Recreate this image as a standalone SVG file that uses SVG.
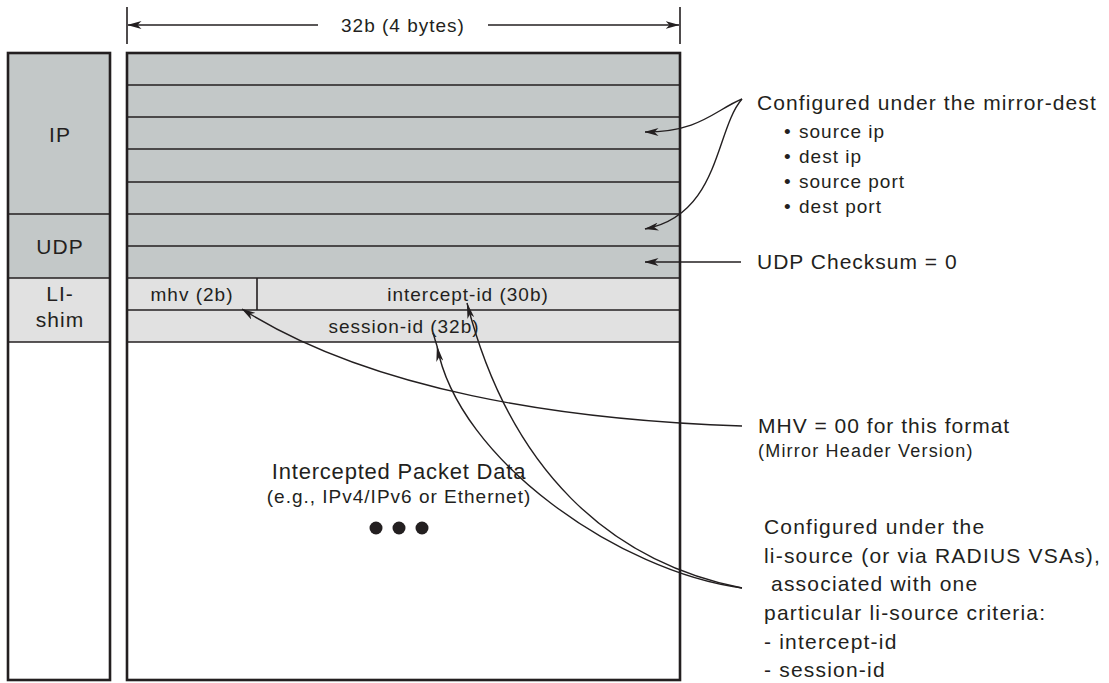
<svg xmlns="http://www.w3.org/2000/svg" width="1109" height="683" viewBox="0 0 1109 683">
<style>
.t{font-family:"Liberation Sans",Arial,Helvetica,sans-serif;fill:#231f20;letter-spacing:1px}
.box{stroke:#231f20;stroke-width:2.6}
.row{stroke:#231f20;stroke-width:1.6;fill:none}
.con{stroke:#231f20;stroke-width:1.4;fill:none}
.dark{fill:#c3c8c8}
.light{fill:#e1e1e1}
</style>
<defs>
<marker id="ah" markerUnits="userSpaceOnUse" viewBox="0 0 14 8" markerWidth="14" markerHeight="8" refX="13.5" refY="4" orient="auto">
<path d="M0,0 L14,4 L0,8 L4,4 z" fill="#231f20"/>
</marker>
<marker id="ahs" markerUnits="userSpaceOnUse" viewBox="0 0 16 7" markerWidth="16" markerHeight="7" refX="15.5" refY="3.5" orient="auto">
<path d="M0,0 L16,3.5 L0,7 L4,3.5 z" fill="#231f20"/>
</marker>
</defs>
<rect width="1109" height="683" fill="#ffffff"/>

<g id="width-indicator">
<line x1="127" y1="7" x2="127" y2="44" class="row"/>
<line x1="680" y1="7" x2="680" y2="44" class="row"/>
<text class="t" x="403" y="32" font-size="19" text-anchor="middle">32b (4 bytes)</text>
</g>

<g id="layer-column">
<rect x="8" y="53" width="102" height="161" class="dark"/>
<rect x="8" y="214" width="102" height="64" class="dark"/>
<rect x="8" y="278" width="102" height="64" class="light"/>
<rect x="8" y="342" width="102" height="338" fill="#ffffff"/>
<line x1="8" y1="214" x2="110" y2="214" class="row"/>
<line x1="8" y1="278" x2="110" y2="278" class="row"/>
<line x1="8" y1="342" x2="110" y2="342" class="row"/>
<rect x="8" y="53" width="102" height="627" fill="none" class="box"/>
<text class="t" x="60" y="142" font-size="21" text-anchor="middle">IP</text>
<text class="t" x="60" y="254" font-size="21" text-anchor="middle">UDP</text>
<text class="t" x="60" y="301" font-size="21" text-anchor="middle">LI-</text>
<text class="t" x="60" y="327" font-size="21" text-anchor="middle">shim</text>
</g>

<g id="packet">
<rect x="127" y="53" width="553" height="225" class="dark"/>
<rect x="127" y="278" width="553" height="64" class="light"/>
<rect x="127" y="342" width="553" height="338" fill="#ffffff"/>
<line x1="127" y1="85" x2="680" y2="85" class="row"/>
<line x1="127" y1="117" x2="680" y2="117" class="row"/>
<line x1="127" y1="149" x2="680" y2="149" class="row"/>
<line x1="127" y1="182" x2="680" y2="182" class="row"/>
<line x1="127" y1="214" x2="680" y2="214" class="row"/>
<line x1="127" y1="246" x2="680" y2="246" class="row"/>
<line x1="127" y1="278" x2="680" y2="278" class="row"/>
<line x1="127" y1="310" x2="680" y2="310" class="row"/>
<line x1="127" y1="342" x2="680" y2="342" class="row"/>
<line x1="257" y1="278" x2="257" y2="310" class="row"/>
<rect x="127" y="53" width="553" height="627" fill="none" class="box"/>
</g>

<g id="mhv-field"><text class="t" x="192" y="301" font-size="19" text-anchor="middle">mhv (2b)</text></g>
<g id="intercept-id-field"><text class="t" x="468" y="301" font-size="19" text-anchor="middle">intercept-id (30b)</text></g>
<g id="session-id-field"><text class="t" x="404" y="333" font-size="19" text-anchor="middle">session-id (32b)</text></g>

<g id="payload">
<text class="t" x="399" y="479" font-size="22" text-anchor="middle" style="letter-spacing:0.8px">Intercepted Packet Data</text>
<text class="t" x="399" y="503" font-size="19" text-anchor="middle">(e.g., IPv4/IPv6 or Ethernet)</text>
<circle cx="376" cy="528" r="6.5" fill="#231f20"/>
<circle cx="399" cy="528" r="6.5" fill="#231f20"/>
<circle cx="422" cy="528" r="6.5" fill="#231f20"/>
</g>

<g id="note-mirror-dest">
<text class="t" x="757" y="110" font-size="21" style="letter-spacing:1.1px">Configured under the mirror-dest</text>
<text class="t" x="784" y="138" font-size="19">•</text>
<text class="t" x="799" y="138" font-size="19">source ip</text>
<text class="t" x="784" y="163" font-size="19">•</text>
<text class="t" x="799" y="163" font-size="19">dest ip</text>
<text class="t" x="784" y="188" font-size="19">•</text>
<text class="t" x="799" y="188" font-size="19">source port</text>
<text class="t" x="784" y="213" font-size="19">•</text>
<text class="t" x="799" y="213" font-size="19">dest port</text>
</g>

<g id="note-udp-checksum">
<text class="t" x="757" y="269" font-size="21">UDP Checksum = 0</text>
</g>

<g id="note-mhv">
<text class="t" x="758" y="433" font-size="21">MHV = 00 for this format</text>
<text class="t" x="758" y="457" font-size="18" style="letter-spacing:1.2px">(Mirror Header Version)</text>
</g>

<g id="note-li-source" style="letter-spacing:1.2px">
<text class="t" x="764" y="534" font-size="21" style="letter-spacing:1.2px">Configured under the</text>
<text class="t" x="764" y="563" font-size="21" style="letter-spacing:1.2px">li-source (or via RADIUS VSAs),</text>
<text class="t" x="764" y="591" font-size="21" style="letter-spacing:1.2px" xml:space="preserve"> associated with one</text>
<text class="t" x="764" y="620" font-size="21" style="letter-spacing:1.2px">particular li-source criteria:</text>
<text class="t" x="764" y="649" font-size="21" style="letter-spacing:1.2px">- intercept-id</text>
<text class="t" x="764" y="677" font-size="21" style="letter-spacing:1.2px">- session-id</text>
</g>

<g id="connectors">
<path d="M318 25 L128 25" class="con" marker-end="url(#ah)"/>
<path d="M488 25 L679 25" class="con" marker-end="url(#ah)"/>
<path d="M742 99 C715 110 700 132 645 132" class="con" marker-end="url(#ah)"/>
<path d="M742 99 C715 130 720 215 645 229" class="con" marker-end="url(#ah)"/>
<path d="M741 262 L645 262" class="con" marker-end="url(#ah)"/>
<path d="M742 426 C560 420 370 390 242 309" class="con" marker-end="url(#ah)"/>
<path d="M742 588 C620 572 458 460 437 346" class="con" marker-end="url(#ahs)"/>
<path d="M437 346 L433 333" class="con"/>
<path d="M742 588 C610 562 510 470 467 303" class="con" marker-end="url(#ahs)"/>
</g>
</svg>
